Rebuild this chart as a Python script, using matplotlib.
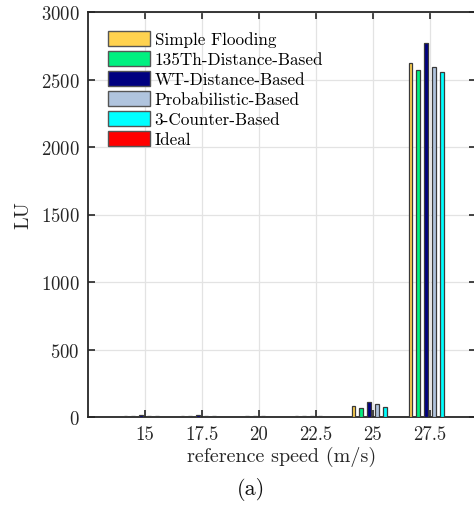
import matplotlib
matplotlib.use("Agg")
import matplotlib.pyplot as plt
import numpy as np

plt.rcParams['font.family'] = ['cmr10', 'DejaVu Serif']
plt.rcParams['axes.formatter.use_mathtext'] = True
plt.rcParams['mathtext.fontset'] = 'cm'

speeds = [15, 17.5, 20, 22.5, 25, 27.5]
speed_labels = ['15', '17.5', '20', '22.5', '25', '27.5']
series_names = ['Simple Flooding', '135Th-Distance-Based', 'WT-Distance-Based',
                'Probabilistic-Based', '3-Counter-Based', 'Ideal']
simple_flooding = [5, 6, 3, 4, 85, 2625]
th135_distance = [6, 7, 4, 5, 67, 2568]
wt_distance = [15, 12, 6, 8, 108, 2773]
probabilistic = [10, 9, 5, 6, 100, 2590]
counter3 = [4, 5, 3, 3, 75, 2552]
ideal = [2, 2, 1, 1, 3, 3]
series = [simple_flooding, th135_distance, wt_distance, probabilistic, counter3, ideal]
colors = ['#FFD24F', '#00F080', '#000080', '#B0C4DE', '#00FFFF', '#FF0000']
yticks = [0, 500, 1000, 1500, 2000, 2500, 3000]

fig = plt.figure(figsize=(4.74, 5.06), dpi=100)
ax = fig.add_axes([88/474, 88/506, 387.6/474, 405/506])

n = len(series)
slot = 0.343
bw = 0.17
x = np.array(speeds)
for i, (vals, c, name) in enumerate(zip(series, colors, series_names)):
    offs = (i - (n - 1) / 2) * slot
    ax.bar(x + offs, vals, width=bw, color=c, edgecolor='#3a3a3a',
           linewidth=0.9, label=name, zorder=3)

ax.set_xlim(12.5, 29.5)
ax.set_ylim(0, 3000)
ax.set_xticks(speeds)
ax.set_xticklabels(speed_labels)
ax.set_yticks(yticks)
ax.grid(True, color='#e3e3e3', linewidth=0.9, zorder=0)
ax.set_axisbelow(True)
ax.tick_params(direction='in', length=5, width=1.2, labelsize=13.5,
               colors='#262626', top=True, right=True, pad=6)
for s in ['left', 'bottom', 'top', 'right']:
    ax.spines[s].set_linewidth(1.3)
    ax.spines[s].set_color('#262626')
ax.set_xlabel('reference speed (m/s)', fontsize=14.5, color='#262626', labelpad=2)
ax.set_ylabel('LU', fontsize=14.5, color='#262626', labelpad=6)

leg = ax.legend(loc='upper left', bbox_to_anchor=(0.022, 0.982), frameon=False,
                fontsize=12.3, handlelength=2.45, handleheight=0.95,
                labelspacing=0.22, handletextpad=0.25, borderpad=0.2)
for h in leg.legend_handles:
    h.set_edgecolor('#555555')
    h.set_linewidth(1.0)

fig.text(251/474, 1 - 490/506, '(a)', ha='center', va='center', fontsize=16,
         color='#111111')

fig.savefig('out.png', dpi=100)
